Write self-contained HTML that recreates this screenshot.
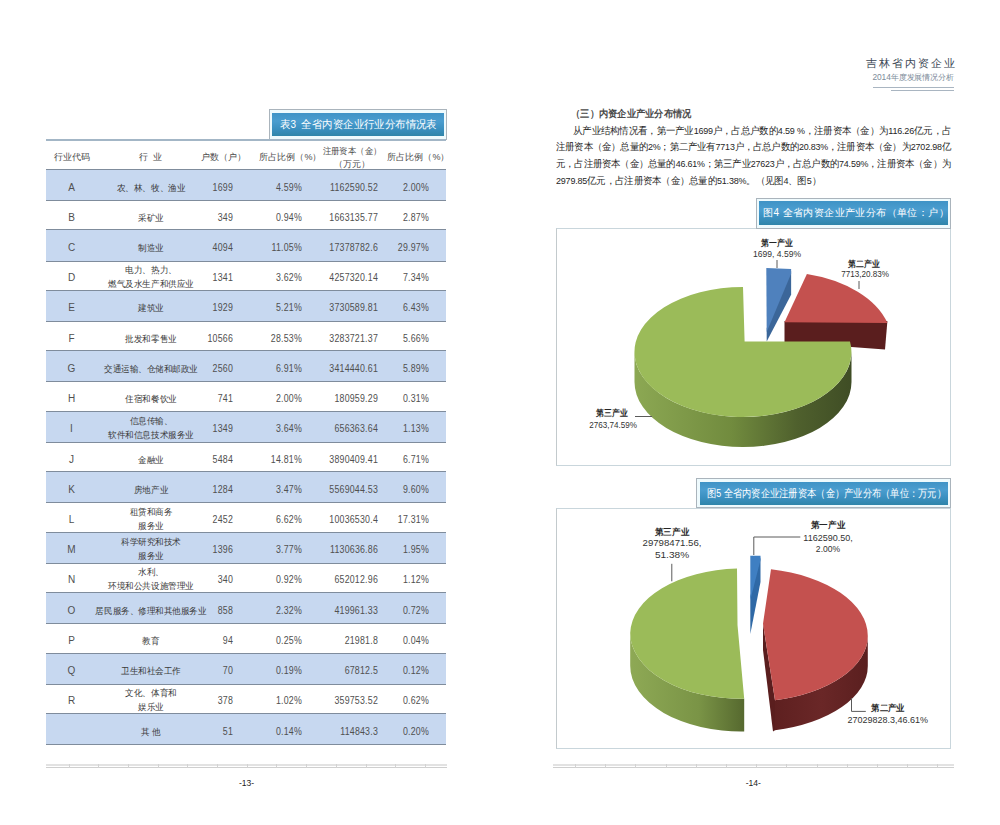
<!DOCTYPE html>
<html><head><meta charset="utf-8">
<style>
*{margin:0;padding:0;box-sizing:border-box}
html,body{width:1000px;height:825px;background:#fff;overflow:hidden}
body{position:relative;font-family:"Liberation Sans",sans-serif;color:#333}
.abs{position:absolute}
.rowbg{position:absolute;left:46px;width:400px;background:#c7d8f0;border-top:1.8px solid #7f8c9c;border-bottom:1.8px solid #7f8c9c}
.c,.r,.l{position:absolute;font-size:9px;line-height:10px;white-space:nowrap;color:#3a3a3a}
.c{transform:translate(-50%,-50%)}
.r{transform:translate(-100%,-50%)}
.code{font-size:10px;color:#505050}
.ind{transform:translate(-50%,-50%) scaleX(0.95)}
.lab{font-size:8.5px;color:#262626;font-weight:bold;transform:translate(-50%,-50%) scaleX(0.87)}
.labn{font-size:9px;color:#333;font-weight:normal;transform:translate(-50%,-50%) scaleX(0.95)}
.n{font-size:10px;color:#505050;letter-spacing:0.25px;transform-origin:100% 50%;transform:translate(-100%,-50%) scaleX(0.88)}
.l{transform:translate(0,-50%)}
.tbox{position:absolute;border:1px solid #aab4bc;background:#eefafd}
.tin{position:absolute;background:linear-gradient(#3f93c6,#4a9dcf 35%,#3a8fbf 70%,#2f85a9);color:#fff;white-space:nowrap}
.pl{position:absolute;font-size:9.5px;letter-spacing:-0.2px;line-height:16.8px;color:#262626;white-space:nowrap;transform-origin:0 50%}
.ts{display:inline-block;transform-origin:0 50%}
.foot{position:absolute;height:1px;background:#ccc}
</style></head><body>
<!-- LEFT PAGE -->
<div class="tbox" style="left:269px;top:109px;width:178px;height:31px"></div>
<div class="tin" style="left:272px;top:112.5px;width:172px;height:23.5px;font-size:10.5px;line-height:23.5px;padding-left:8px;font-weight:500"><span class="ts" style="transform:scaleX(0.947)">表3 &nbsp;全省内资企业行业分布情况表</span></div>
<div class="abs" style="left:46px;top:138.5px;width:400px;height:2px;background:#a3b6c6"></div>
<div class="c" style="left:71.5px;top:157px;color:#4a4a4a">行业代码</div>
<div class="c" style="left:150.5px;top:157px;color:#4a4a4a">行 &nbsp;业</div>
<div class="c" style="left:223px;top:157px;color:#4a4a4a">户数（户）</div>
<div class="c" style="left:290.5px;top:157px;color:#4a4a4a">所占比例（%）</div>
<div class="c" style="left:351.5px;top:151px;color:#4a4a4a;transform:translate(-50%,-50%) scaleX(0.93)">注册资本（金）</div>
<div class="c" style="left:352px;top:163.5px;color:#4a4a4a">（万元）</div>
<div class="c" style="left:418.5px;top:157px;color:#4a4a4a">所占比例（%）</div>
<div class="rowbg" style="top:169.0px;height:32.2px"></div>
<div class="c code" style="left:71.5px;top:187.5px">A</div>
<div class="c ind" style="left:150.5px;top:187.5px">农、林、牧、渔业</div>
<div class="r n" style="left:233px;top:187.5px">1699</div>
<div class="r n" style="left:302px;top:187.5px">4.59%</div>
<div class="r n" style="left:377.5px;top:187.5px">1162590.52</div>
<div class="r n" style="left:429px;top:187.5px">2.00%</div>
<div class="c code" style="left:71.5px;top:217.7px">B</div>
<div class="c ind" style="left:150.5px;top:217.7px">采矿业</div>
<div class="r n" style="left:233px;top:217.7px">349</div>
<div class="r n" style="left:302px;top:217.7px">0.94%</div>
<div class="r n" style="left:377.5px;top:217.7px">1663135.77</div>
<div class="r n" style="left:429px;top:217.7px">2.87%</div>
<div class="rowbg" style="top:229.4px;height:32.2px"></div>
<div class="c code" style="left:71.5px;top:247.9px">C</div>
<div class="c ind" style="left:150.5px;top:247.9px">制造业</div>
<div class="r n" style="left:233px;top:247.9px">4094</div>
<div class="r n" style="left:302px;top:247.9px">11.05%</div>
<div class="r n" style="left:377.5px;top:247.9px">17378782.6</div>
<div class="r n" style="left:429px;top:247.9px">29.97%</div>
<div class="c code" style="left:71.5px;top:278.2px">D</div>
<div class="c ind" style="left:150.5px;top:270.0px">电力、热力、</div>
<div class="c ind" style="left:150.5px;top:283.9px">燃气及水生产和供应业</div>
<div class="r n" style="left:233px;top:278.2px">1341</div>
<div class="r n" style="left:302px;top:278.2px">3.62%</div>
<div class="r n" style="left:377.5px;top:278.2px">4257320.14</div>
<div class="r n" style="left:429px;top:278.2px">7.34%</div>
<div class="rowbg" style="top:289.9px;height:32.2px"></div>
<div class="c code" style="left:71.5px;top:308.4px">E</div>
<div class="c ind" style="left:150.5px;top:308.4px">建筑业</div>
<div class="r n" style="left:233px;top:308.4px">1929</div>
<div class="r n" style="left:302px;top:308.4px">5.21%</div>
<div class="r n" style="left:377.5px;top:308.4px">3730589.81</div>
<div class="r n" style="left:429px;top:308.4px">6.43%</div>
<div class="c code" style="left:71.5px;top:338.6px">F</div>
<div class="c ind" style="left:150.5px;top:338.6px">批发和零售业</div>
<div class="r n" style="left:233px;top:338.6px">10566</div>
<div class="r n" style="left:302px;top:338.6px">28.53%</div>
<div class="r n" style="left:377.5px;top:338.6px">3283721.37</div>
<div class="r n" style="left:429px;top:338.6px">5.66%</div>
<div class="rowbg" style="top:350.3px;height:32.2px"></div>
<div class="c code" style="left:71.5px;top:368.8px">G</div>
<div class="c ind" style="left:150.5px;top:368.8px">交通运输、仓储和邮政业</div>
<div class="r n" style="left:233px;top:368.8px">2560</div>
<div class="r n" style="left:302px;top:368.8px">6.91%</div>
<div class="r n" style="left:377.5px;top:368.8px">3414440.61</div>
<div class="r n" style="left:429px;top:368.8px">5.89%</div>
<div class="c code" style="left:71.5px;top:399.0px">H</div>
<div class="c ind" style="left:150.5px;top:399.0px">住宿和餐饮业</div>
<div class="r n" style="left:233px;top:399.0px">741</div>
<div class="r n" style="left:302px;top:399.0px">2.00%</div>
<div class="r n" style="left:377.5px;top:399.0px">180959.29</div>
<div class="r n" style="left:429px;top:399.0px">0.31%</div>
<div class="rowbg" style="top:410.8px;height:32.2px"></div>
<div class="c code" style="left:71.5px;top:429.3px">I</div>
<div class="c ind" style="left:150.5px;top:421.1px">信息传输、</div>
<div class="c ind" style="left:150.5px;top:435.0px">软件和信息技术服务业</div>
<div class="r n" style="left:233px;top:429.3px">1349</div>
<div class="r n" style="left:302px;top:429.3px">3.64%</div>
<div class="r n" style="left:377.5px;top:429.3px">656363.64</div>
<div class="r n" style="left:429px;top:429.3px">1.13%</div>
<div class="c code" style="left:71.5px;top:459.5px">J</div>
<div class="c ind" style="left:150.5px;top:459.5px">金融业</div>
<div class="r n" style="left:233px;top:459.5px">5484</div>
<div class="r n" style="left:302px;top:459.5px">14.81%</div>
<div class="r n" style="left:377.5px;top:459.5px">3890409.41</div>
<div class="r n" style="left:429px;top:459.5px">6.71%</div>
<div class="rowbg" style="top:471.2px;height:32.2px"></div>
<div class="c code" style="left:71.5px;top:489.7px">K</div>
<div class="c ind" style="left:150.5px;top:489.7px">房地产业</div>
<div class="r n" style="left:233px;top:489.7px">1284</div>
<div class="r n" style="left:302px;top:489.7px">3.47%</div>
<div class="r n" style="left:377.5px;top:489.7px">5569044.53</div>
<div class="r n" style="left:429px;top:489.7px">9.60%</div>
<div class="c code" style="left:71.5px;top:519.9px">L</div>
<div class="c ind" style="left:150.5px;top:511.7px">租赁和商务</div>
<div class="c ind" style="left:150.5px;top:525.6px">服务业</div>
<div class="r n" style="left:233px;top:519.9px">2452</div>
<div class="r n" style="left:302px;top:519.9px">6.62%</div>
<div class="r n" style="left:377.5px;top:519.9px">10036530.4</div>
<div class="r n" style="left:429px;top:519.9px">17.31%</div>
<div class="rowbg" style="top:531.6px;height:32.2px"></div>
<div class="c code" style="left:71.5px;top:550.1px">M</div>
<div class="c ind" style="left:150.5px;top:541.9px">科学研究和技术</div>
<div class="c ind" style="left:150.5px;top:555.8px">服务业</div>
<div class="r n" style="left:233px;top:550.1px">1396</div>
<div class="r n" style="left:302px;top:550.1px">3.77%</div>
<div class="r n" style="left:377.5px;top:550.1px">1130636.86</div>
<div class="r n" style="left:429px;top:550.1px">1.95%</div>
<div class="c code" style="left:71.5px;top:580.4px">N</div>
<div class="c ind" style="left:150.5px;top:572.2px">水利、</div>
<div class="c ind" style="left:150.5px;top:586.1px">环境和公共设施管理业</div>
<div class="r n" style="left:233px;top:580.4px">340</div>
<div class="r n" style="left:302px;top:580.4px">0.92%</div>
<div class="r n" style="left:377.5px;top:580.4px">652012.96</div>
<div class="r n" style="left:429px;top:580.4px">1.12%</div>
<div class="rowbg" style="top:592.1px;height:32.2px"></div>
<div class="c code" style="left:71.5px;top:610.6px">O</div>
<div class="c ind" style="left:150.5px;top:610.6px">居民服务、修理和其他服务业</div>
<div class="r n" style="left:233px;top:610.6px">858</div>
<div class="r n" style="left:302px;top:610.6px">2.32%</div>
<div class="r n" style="left:377.5px;top:610.6px">419961.33</div>
<div class="r n" style="left:429px;top:610.6px">0.72%</div>
<div class="c code" style="left:71.5px;top:640.8px">P</div>
<div class="c ind" style="left:150.5px;top:640.8px">教育</div>
<div class="r n" style="left:233px;top:640.8px">94</div>
<div class="r n" style="left:302px;top:640.8px">0.25%</div>
<div class="r n" style="left:377.5px;top:640.8px">21981.8</div>
<div class="r n" style="left:429px;top:640.8px">0.04%</div>
<div class="rowbg" style="top:652.5px;height:32.2px"></div>
<div class="c code" style="left:71.5px;top:671.0px">Q</div>
<div class="c ind" style="left:150.5px;top:671.0px">卫生和社会工作</div>
<div class="r n" style="left:233px;top:671.0px">70</div>
<div class="r n" style="left:302px;top:671.0px">0.19%</div>
<div class="r n" style="left:377.5px;top:671.0px">67812.5</div>
<div class="r n" style="left:429px;top:671.0px">0.12%</div>
<div class="c code" style="left:71.5px;top:701.2px">R</div>
<div class="c ind" style="left:150.5px;top:693.0px">文化、体育和</div>
<div class="c ind" style="left:150.5px;top:706.9px">娱乐业</div>
<div class="r n" style="left:233px;top:701.2px">378</div>
<div class="r n" style="left:302px;top:701.2px">1.02%</div>
<div class="r n" style="left:377.5px;top:701.2px">359753.52</div>
<div class="r n" style="left:429px;top:701.2px">0.62%</div>
<div class="rowbg" style="top:713.0px;height:32.2px"></div>
<div class="c code" style="left:71.5px;top:731.5px"></div>
<div class="c ind" style="left:150.5px;top:731.5px">其 他</div>
<div class="r n" style="left:233px;top:731.5px">51</div>
<div class="r n" style="left:302px;top:731.5px">0.14%</div>
<div class="r n" style="left:377.5px;top:731.5px">114843.3</div>
<div class="r n" style="left:429px;top:731.5px">0.20%</div>
<div class="foot" style="left:46px;top:764px;width:401px;height:1.6px;background:#e2e2e2"></div>
<div class="foot" style="left:46px;top:767px;width:401px;height:1px;background:#cfcfcf"></div>
<div class="foot" style="left:68.5px;top:763.5px;width:1px;height:4.5px;background:#d2d2d2"></div>
<div class="foot" style="left:98.2px;top:763.5px;width:1px;height:4.5px;background:#d2d2d2"></div>
<div class="foot" style="left:127.9px;top:763.5px;width:1px;height:4.5px;background:#d2d2d2"></div>
<div class="foot" style="left:157.6px;top:763.5px;width:1px;height:4.5px;background:#d2d2d2"></div>
<div class="foot" style="left:187.3px;top:763.5px;width:1px;height:4.5px;background:#d2d2d2"></div>
<div class="foot" style="left:217.0px;top:763.5px;width:1px;height:4.5px;background:#d2d2d2"></div>
<div class="foot" style="left:246.7px;top:763.5px;width:1px;height:4.5px;background:#d2d2d2"></div>
<div class="foot" style="left:276.4px;top:763.5px;width:1px;height:4.5px;background:#d2d2d2"></div>
<div class="foot" style="left:306.1px;top:763.5px;width:1px;height:4.5px;background:#d2d2d2"></div>
<div class="foot" style="left:335.8px;top:763.5px;width:1px;height:4.5px;background:#d2d2d2"></div>
<div class="foot" style="left:365.5px;top:763.5px;width:1px;height:4.5px;background:#d2d2d2"></div>
<div class="foot" style="left:395.2px;top:763.5px;width:1px;height:4.5px;background:#d2d2d2"></div>
<div class="foot" style="left:424.9px;top:763.5px;width:1px;height:4.5px;background:#d2d2d2"></div>
<div class="c" style="left:246.5px;top:782.5px;font-size:8.5px;color:#222">-13-</div>

<!-- RIGHT PAGE -->
<div class="abs" style="left:865.5px;top:55.5px;font-size:11px;line-height:14px;letter-spacing:2.1px;color:#3a4654;white-space:nowrap">吉林省内资企业</div>
<div class="abs" style="left:872.5px;top:71.5px;font-size:8.4px;line-height:10px;letter-spacing:-0.1px;color:#7c8b99;white-space:nowrap">2014年度发展情况分析</div>
<div class="abs" style="left:873px;top:87px;width:81px;height:1px;background:#a9b5c1"></div>
<div class="abs" style="left:891px;top:90px;width:63px;height:1px;background:#a9b5c1"></div>

<div class="abs" style="left:570.5px;top:106.5px;font-size:10px;line-height:13px;color:#4a4a4a;font-weight:bold;white-space:nowrap;transform-origin:0 50%;transform:scaleX(0.925)">（三）内资企业产业分布情况</div>
<div class="pl" style="left:573px;top:122.5px;transform:scaleX(0.947)">从产业结构情况看，第一产业1699户，占总户数的4.59 %，注册资本（金）为116.26亿元，占</div>
<div class="pl" style="left:556px;top:139.3px;transform:scaleX(0.938)">注册资本（金）总量的2%；第二产业有7713户，占总户数的20.83%，注册资本（金）为2702.98亿</div>
<div class="pl" style="left:556px;top:156.1px;transform:scaleX(0.939)">元，占注册资本（金）总量的46.61%；第三产业27623户，占总户数的74.59%，注册资本（金）为</div>
<div class="pl" style="left:556px;top:172.9px;transform:scaleX(0.946)">2979.85亿元，占注册资本（金）总量的51.38%。（见图4、图5）</div>

<!-- chart 4 frame -->
<div class="abs" style="left:556px;top:228px;width:395px;height:237.5px;border:1.5px solid #c9d6dc;border-left-color:#c3cacd"></div>
<div class="tbox" style="left:756px;top:198px;width:195px;height:30.5px"></div>
<div class="tin" style="left:759px;top:201px;width:189px;height:23.5px;font-size:10px;line-height:23.5px;padding-left:4px;letter-spacing:0.4px;font-weight:500"><span class="ts" style="transform:scaleX(1.0)">图4 全省内资企业产业分布（单位：户）</span></div>

<!-- chart 5 frame -->
<div class="abs" style="left:556px;top:507.5px;width:395px;height:241.5px;border:1.5px solid #c9d6dc;border-left-color:#c3cacd"></div>
<div class="tbox" style="left:696px;top:478px;width:255px;height:30px"></div>
<div class="tin" style="left:700px;top:481.5px;width:248px;height:23px;font-size:10.5px;line-height:23px;padding-left:7px;font-weight:500"><span class="ts" style="transform:scaleX(0.842)">图5 全省内资企业注册资本（金）产业分布（单位：万元）</span></div>

<div class="foot" style="left:552.5px;top:764px;width:401.0px;height:1.6px;background:#e2e2e2"></div>
<div class="foot" style="left:552.5px;top:767px;width:401.0px;height:1px;background:#cfcfcf"></div>
<div class="foot" style="left:575.0px;top:763.5px;width:1px;height:4.5px;background:#d2d2d2"></div>
<div class="foot" style="left:605.2px;top:763.5px;width:1px;height:4.5px;background:#d2d2d2"></div>
<div class="foot" style="left:635.4px;top:763.5px;width:1px;height:4.5px;background:#d2d2d2"></div>
<div class="foot" style="left:665.6px;top:763.5px;width:1px;height:4.5px;background:#d2d2d2"></div>
<div class="foot" style="left:695.8px;top:763.5px;width:1px;height:4.5px;background:#d2d2d2"></div>
<div class="foot" style="left:726.0px;top:763.5px;width:1px;height:4.5px;background:#d2d2d2"></div>
<div class="foot" style="left:756.2px;top:763.5px;width:1px;height:4.5px;background:#d2d2d2"></div>
<div class="foot" style="left:786.4px;top:763.5px;width:1px;height:4.5px;background:#d2d2d2"></div>
<div class="foot" style="left:816.6px;top:763.5px;width:1px;height:4.5px;background:#d2d2d2"></div>
<div class="foot" style="left:846.8px;top:763.5px;width:1px;height:4.5px;background:#d2d2d2"></div>
<div class="foot" style="left:877.0px;top:763.5px;width:1px;height:4.5px;background:#d2d2d2"></div>
<div class="foot" style="left:907.2px;top:763.5px;width:1px;height:4.5px;background:#d2d2d2"></div>
<div class="foot" style="left:937.4px;top:763.5px;width:1px;height:4.5px;background:#d2d2d2"></div>
<div class="c" style="left:753.3px;top:782.5px;font-size:8.5px;color:#222">-14-</div>

<svg class="abs" style="left:0;top:0" width="1000" height="825" viewBox="0 0 1000 825">
<defs>
<linearGradient id="gside" x1="0" x2="1" y1="0" y2="0">
<stop offset="0" stop-color="#8ca853"/><stop offset="0.45" stop-color="#718b3e"/><stop offset="0.75" stop-color="#4f602d"/><stop offset="1" stop-color="#3f4d25"/>
</linearGradient>
<linearGradient id="gside5" x1="0" x2="1" y1="0" y2="0">
<stop offset="0" stop-color="#8ea955"/><stop offset="0.6" stop-color="#7a9446"/><stop offset="1" stop-color="#56692f"/>
</linearGradient>
<linearGradient id="rside5" x1="0" x2="1" y1="0" y2="0">
<stop offset="0" stop-color="#5e2020"/><stop offset="0.5" stop-color="#6a2727"/><stop offset="1" stop-color="#5a1f1f"/>
</linearGradient>
</defs>
<!-- CHART 4 -->
<!-- blue -->
<polygon points="791.1,271 791.1,294.8 766.7,341.4 766.7,328" fill="#3b6699"/>
<polygon points="766.3,267.9 791.1,269 791.1,273.7 766.7,332" fill="#4f81bd"/>
<!-- red -->
<polygon points="784.5,321 887.4,321 885,349.6 784.5,342" fill="#5a1e1e"/>
<path d="M784.5 322.3 L806.9 274 A112 70 0 0 1 887.4 323 Z" fill="#c4514f"/>
<!-- green -->
<path d="M634.5 352 A108.5 65 0 0 0 851.5 352 L851.5 382 A108.5 65 0 0 1 634.5 382 Z" fill="url(#gside)"/>
<path d="M744.6 341.4 L743 287 A108.5 65 0 1 0 850 341.4 Z" fill="#9bbb59"/>
<!-- leaders -->
<line x1="777" y1="260" x2="777" y2="268" stroke="#5a5a5a" stroke-width="1"/>
<line x1="859" y1="281" x2="859" y2="289" stroke="#5a5a5a" stroke-width="1"/>
<line x1="635" y1="416.5" x2="652" y2="416.5" stroke="#5a5a5a" stroke-width="1"/>

<!-- CHART 5 -->
<!-- blue -->
<polygon points="760.5,557 760.5,582 750.3,634 750.3,596" fill="#2f69a6"/>
<polygon points="750.3,555.8 760.5,555.8 760.5,560 750.3,600" fill="#3f7fc2"/>
<!-- green side & top -->
<path d="M630.2 633 A110.8 65.7 0 0 0 744.2 698.8 L744.2 731.5 A110.8 65.7 0 0 1 630.2 665.7 Z" fill="url(#gside5)"/>
<path d="M737 568.6 L737.5 625 L744.2 698.8 A110.8 65.7 0 0 1 630.2 633 A110.8 65.7 0 0 1 737 568.6 Z" fill="#9bbb59"/>
<!-- red -->
<path d="M867.8 636 A120 66 0 0 1 775 700.3 L775 730.3 A120 66 0 0 0 867.8 666 Z" fill="url(#rside5)"/>
<polygon points="763,623.7 775,700.3 775,730.3 773,731.5 763,650" fill="#5a1e1e"/>
<path d="M763 623.7 L771 569.3 A120 68 0 0 1 867.8 636 A120 66 0 0 1 775 700.3 Z" fill="#c4514f"/>
<!-- leaders -->
<polyline points="753.8,555 753.8,537 800.3,537" fill="none" stroke="#5a5a5a" stroke-width="1"/>
<line x1="671.8" y1="563.8" x2="671.8" y2="581.3" stroke="#5a5a5a" stroke-width="1"/>
<polyline points="851.5,698 851.5,711.4 865.8,711.4" fill="none" stroke="#5a5a5a" stroke-width="1"/>
</svg>
<!-- chart labels -->
<div class="c lab" style="left:777px;top:242.5px;">第一产业</div>
<div class="c lab labn" style="left:777px;top:253.8px;">1699, 4.59%</div>
<div class="c lab" style="left:864px;top:263.6px;">第二产业</div>
<div class="c lab labn" style="left:864.5px;top:274.2px;transform:translate(-50%,-50%) scaleX(0.9)">7713,20.83%</div>
<div class="c lab" style="left:612px;top:413.4px;">第三产业</div>
<div class="c lab labn" style="left:612.5px;top:424.5px;transform:translate(-50%,-50%) scaleX(0.9)">2763,74.59%</div>

<div class="c lab" style="left:828px;top:524.5px;transform:translate(-50%,-50%) scaleX(0.95)">第一产业</div>
<div class="c lab labn" style="left:828px;top:537.6px;transform:translate(-50%,-50%) scaleX(1.0)">1162590.50,</div>
<div class="c lab labn" style="left:827.5px;top:549.3px;">2.00%</div>
<div class="c lab" style="left:671.5px;top:531.8px;transform:translate(-50%,-50%) scaleX(0.95)">第三产业</div>
<div class="c lab labn" style="left:672px;top:543.4px;transform:translate(-50%,-50%) scaleX(1.07)">29798471.56,</div>
<div class="c lab labn" style="left:671.7px;top:555px;transform:translate(-50%,-50%) scaleX(1.12)">51.38%</div>
<div class="c lab" style="left:888px;top:707.5px;transform:translate(-50%,-50%) scaleX(0.93)">第二产业</div>
<div class="c lab labn" style="left:887.7px;top:720.2px;transform:translate(-50%,-50%) scaleX(1.0)">27029828.3,46.61%</div>
</body></html>
